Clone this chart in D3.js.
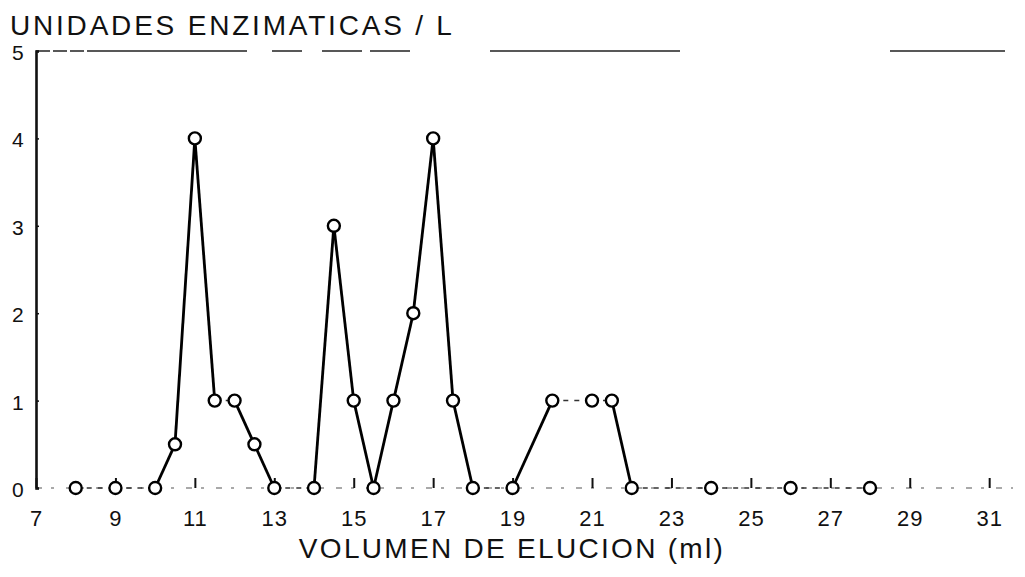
<!DOCTYPE html>
<html>
<head>
<meta charset="utf-8">
<script src="https://cdn.jsdelivr.net/npm/d3@7"></script>
<style>
  html, body { margin: 0; padding: 0; background: #fff; }
  svg { display: block; }
  text { font-family: "Liberation Sans", Arial, sans-serif; fill: #111; }
</style>
</head>
<body>
<svg id="chart" width="1025" height="577"></svg>
<script>
// Elution profile: enzyme units per litre against elution volume
const volumes = [8, 9, 10, 10.5, 11, 11.5, 12, 12.5, 13, 14, 14.5, 15, 15.5, 16, 16.5, 17, 17.5, 18, 19, 20, 21, 21.5, 22, 24, 26, 28];
const units   = [0, 0, 0, 0.5, 4, 1, 1, 0.5, 0, 0, 3, 1, 0, 1, 2, 4, 1, 0, 0, 1, 1, 1, 0, 0, 0, 0];
const xTicks = [7, 9, 11, 13, 15, 17, 19, 21, 23, 25, 27, 29, 31];
const yTicks = [0, 1, 2, 3, 4, 5];
const yTitle = "UNIDADES ENZIMATICAS / L";
const xTitle = "VOLUMEN DE ELUCION (ml)";

const svg = d3.select("#chart");
const x = d3.scaleLinear().domain([7, 31.6]).range([36, 1013]);
const y = d3.scaleLinear().domain([0, 5]).range([488, 51]);

const pts = volumes.map((v, i) => ({ v, u: units[i] }));

// Frame: faint broken top rule and baseline, solid left axis
svg.append("line")
  .attr("x1", x(7)).attr("x2", x(31.6)).attr("y1", y(5)).attr("y2", y(5))
  .attr("stroke", "#222").attr("stroke-width", 1.6)
  .attr("stroke-dasharray", "14 3 14 3 14 3 160 25 30 20 40 8 40 80 190 210 115");

svg.append("line")
  .attr("x1", x(7)).attr("x2", x(31.6)).attr("y1", y(0)).attr("y2", y(0))
  .attr("stroke", "#555").attr("stroke-width", 1.2)
  .attr("stroke-dasharray", "6 9 3 12");

const xAxis = d3.axisBottom(x).tickValues(xTicks).tickSize(-10).tickPadding(34);
svg.append("g")
  .attr("transform", `translate(0,${y(0)})`)
  .call(xAxis)
  .call(g => g.select(".domain").remove())
  .call(g => g.selectAll(".tick line").attr("stroke", "#111").attr("stroke-width", 2))
  .call(g => g.selectAll(".tick text").attr("font-size", 22).attr("letter-spacing", 1).attr("dy", "0.2em"));

const yAxis = d3.axisLeft(y).tickValues(yTicks).tickFormat(d3.format("d")).tickSize(-3).tickPadding(14);
svg.append("g")
  .attr("transform", `translate(${x(7)},0)`)
  .call(yAxis)
  .call(g => g.select(".domain").attr("stroke", "#111").attr("stroke-width", 2.6))
  .call(g => g.selectAll(".tick line").attr("stroke", "#111").attr("stroke-width", 1.5))
  .call(g => g.selectAll(".tick text").attr("font-size", 21).attr("text-anchor", "middle").attr("dx", "-0.2em").attr("dy", "0.4em"));

// Connecting segments: steep ones solid, level ones light and broken
const segs = d3.pairs(pts);
svg.append("g").selectAll("line").data(segs).join("line")
  .attr("x1", d => x(d[0].v)).attr("y1", d => y(d[0].u))
  .attr("x2", d => x(d[1].v)).attr("y2", d => y(d[1].u))
  .attr("stroke", d => d[0].u === d[1].u ? "#333" : "#000")
  .attr("stroke-width", d => d[0].u === d[1].u ? 1.5 : 2.8)
  .attr("stroke-dasharray", d => d[0].u === d[1].u ? "5 6" : null);

// Open circle markers
svg.append("g").selectAll("circle").data(pts).join("circle")
  .attr("cx", d => x(d.v)).attr("cy", d => y(d.u)).attr("r", 6)
  .attr("fill", "#fff").attr("stroke", "#000").attr("stroke-width", 2.4);

// Titles
svg.append("text").attr("x", 10).attr("y", 35)
  .attr("font-size", 28).attr("letter-spacing", 2.8)
  .text(yTitle);

svg.append("text").attr("x", 512).attr("y", 558)
  .attr("text-anchor", "middle")
  .attr("font-size", 28).attr("letter-spacing", 2.3)
  .text(xTitle);
</script>
</body>
</html>
